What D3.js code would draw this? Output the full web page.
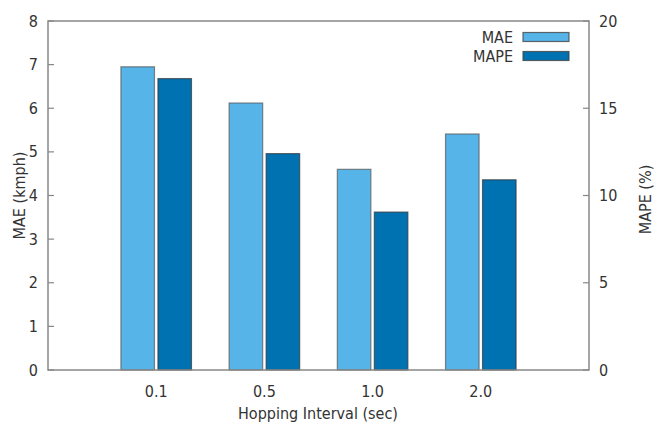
<!DOCTYPE html>
<html>
<head>
<meta charset="UTF-8" />
<title>MAE / MAPE</title>
<script src="https://cdn.jsdelivr.net/npm/d3@7"></script>
<style>
  body { margin: 0; background: #fff; }
  text { font-family: "DejaVu Sans Condensed", "DejaVu Sans", sans-serif; font-stretch: condensed; fill: #333; }
</style>
</head>
<body>
<script>
// data
var intervals = ["0.1", "0.5", "1.0", "2.0"];
var mae = [6.95, 6.12, 4.60, 5.41];      // kmph, left axis
var mape = [16.7, 12.4, 9.05, 10.9];    // %, right axis
var maeTicks = [0, 1, 2, 3, 4, 5, 6, 7, 8];
var mapeTicks = [0, 5, 10, 15, 20];

var W = 654, H = 426;
// note: "top" is taken by window.top, so use other names
var pLeft = 48, pRight = 589, pTop = 21, pBottom = 370;
var fs = 16;

var svg = d3.select("body").append("svg")
  .attr("width", W).attr("height", H);

// gnuplot style x range: -1 .. n
var x = d3.scaleLinear().domain([-1, intervals.length]).range([pLeft, pRight]);
var yL = d3.scaleLinear().domain([0, 8]).range([pBottom, pTop]);
var yR = d3.scaleLinear().domain([0, 20]).range([pBottom, pTop]);

var barW = 0.31, gap = 0.016;
var colMae = "#56b4e9", colMape = "#0072b2";

// bars
svg.selectAll(".mae").data(mae).enter().append("rect")
  .attr("class", "mae")
  .attr("x", function (d, i) { return x(i - gap - barW); })
  .attr("width", x(barW) - x(0))
  .attr("y", function (d) { return yL(d); })
  .attr("height", function (d) { return yL(0) - yL(d); })
  .attr("fill", colMae)
  .attr("stroke", "#555").attr("stroke-opacity", 0.7).attr("stroke-width", 1.2);

svg.selectAll(".mape").data(mape).enter().append("rect")
  .attr("class", "mape")
  .attr("x", function (d, i) { return x(i + gap); })
  .attr("width", x(barW) - x(0))
  .attr("y", function (d) { return yR(d); })
  .attr("height", function (d) { return yR(0) - yR(d); })
  .attr("fill", colMape)
  .attr("stroke", "#333").attr("stroke-opacity", 0.7).attr("stroke-width", 1.2);

// border
svg.append("rect")
  .attr("x", pLeft).attr("y", pTop)
  .attr("width", pRight - pLeft).attr("height", pBottom - pTop)
  .attr("fill", "none").attr("stroke", "#888").attr("stroke-width", 1.5);

// left axis ticks (inward)
svg.selectAll(".tl").data(maeTicks).enter().append("line")
  .attr("x1", pLeft).attr("x2", pLeft + 6)
  .attr("y1", function (d) { return yL(d); })
  .attr("y2", function (d) { return yL(d); })
  .attr("stroke", "#888").attr("stroke-width", 1.2);
svg.selectAll(".ll").data(maeTicks).enter().append("text")
  .attr("x", pLeft - 10).attr("y", function (d) { return yL(d); })
  .attr("dy", "0.35em").attr("text-anchor", "end")
  .attr("font-size", fs)
  .text(function (d) { return d; });

// right axis ticks
svg.selectAll(".tr").data(mapeTicks).enter().append("line")
  .attr("x1", pRight - 6).attr("x2", pRight)
  .attr("y1", function (d) { return yR(d); })
  .attr("y2", function (d) { return yR(d); })
  .attr("stroke", "#888").attr("stroke-width", 1.2);
svg.selectAll(".lr").data(mapeTicks).enter().append("text")
  .attr("x", pRight + 10).attr("y", function (d) { return yR(d); })
  .attr("dy", "0.35em").attr("text-anchor", "start")
  .attr("font-size", fs)
  .text(function (d) { return d; });

// category labels
svg.selectAll(".cl").data(intervals).enter().append("text")
  .attr("x", function (d, i) { return x(i); })
  .attr("y", pBottom + 27)
  .attr("text-anchor", "middle")
  .attr("font-size", fs)
  .text(function (d) { return d; });

// axis titles
svg.append("text")
  .attr("x", 318).attr("y", 419)
  .attr("text-anchor", "middle").attr("font-size", fs)
  .text("Hopping Interval (sec)");

svg.append("text")
  .attr("transform", "translate(25," + ((pTop + pBottom) / 2) + ") rotate(-90)")
  .attr("text-anchor", "middle").attr("font-size", fs)
  .text("MAE (kmph)");

svg.append("text")
  .attr("transform", "translate(651," + ((pTop + pBottom) / 2 + 4) + ") rotate(-90)")
  .attr("text-anchor", "middle").attr("font-size", fs)
  .text("MAPE (%)");

// legend
var legend = [["MAE", colMae], ["MAPE", colMape]];
var lg = svg.selectAll(".lg").data(legend).enter().append("g")
  .attr("transform", function (d, i) { return "translate(0," + (37 + i * 19) + ")"; });
lg.append("text")
  .attr("x", 513).attr("dy", "0.35em")
  .attr("text-anchor", "end").attr("font-size", fs)
  .text(function (d) { return d[0]; });
lg.append("rect")
  .attr("x", 523).attr("y", -4.5)
  .attr("width", 46).attr("height", 9)
  .attr("fill", function (d) { return d[1]; })
  .attr("stroke", "#444").attr("stroke-opacity", 0.8).attr("stroke-width", 1.2);
</script>
</body>
</html>
